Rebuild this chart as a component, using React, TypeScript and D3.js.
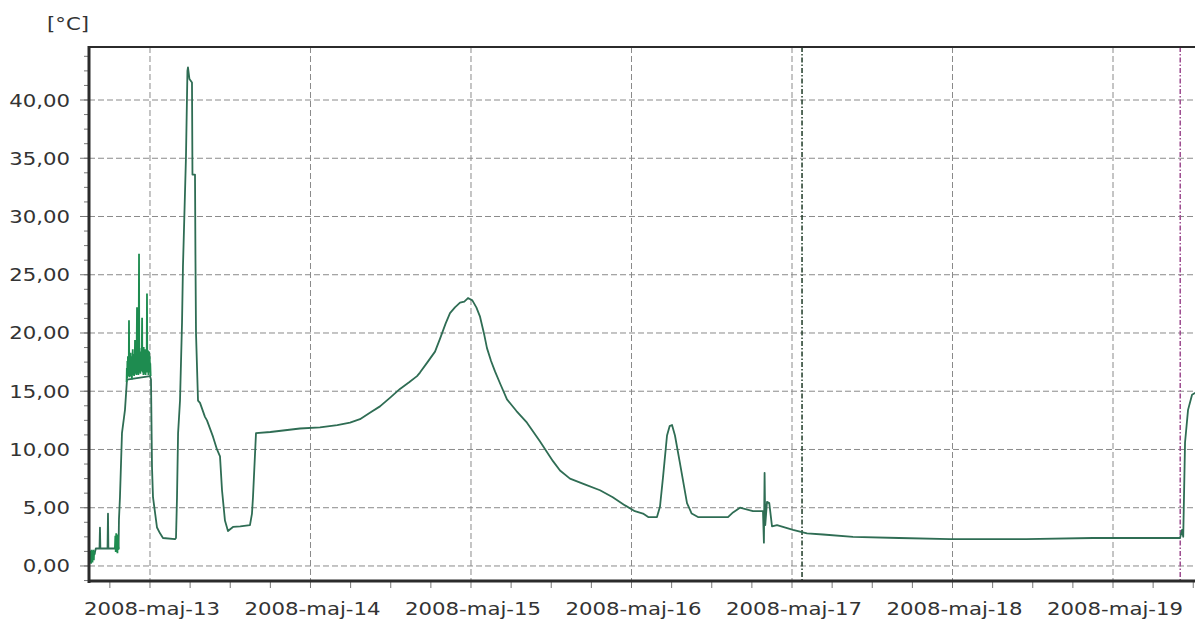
import React from 'react';
import * as d3 from 'd3';

// godziny od 2008-05-12 00:00 i temperatura [°C]
const hours = [
  14.88, 15.03, 15.7, 15.9, 16.45, 16.52, 16.58, 17.65, 17.72, 17.78, 18.7, 19.3, 19.36, 19.51, 19.81,
  20.26, 20.56, 24.0, 24.15, 24.3, 24.45, 25.05, 25.5, 25.94, 27.74, 27.89, 28.04, 28.2, 28.49, 28.79,
  28.93, 29.38, 29.6, 29.68, 29.9, 30.28, 30.35, 30.73, 30.8, 30.88, 31.18, 31.48, 32.22, 32.52, 33.42,
  34.02, 34.47, 34.77, 35.21, 35.66, 36.41, 37.5, 38.95, 39.25, 39.4, 39.85, 42, 46.43, 49.42, 52,
  53.91, 55.4, 57, 58.39, 60, 61.38, 62.8, 63.93, 64.37, 65.5, 66.62, 67.36, 68.2, 68.86, 69.6,
  70.36, 71.0, 71.55, 72.2, 72.8, 73.35, 74.0, 74.39, 75.0, 75.59, 76.4, 77.38, 78.8, 80.37, 82.3,
  84.26, 85.31, 86.8, 89, 91.29, 93.2, 95.03, 96.5, 97.72, 98.5, 99.81, 100.26, 100.71, 101.31, 101.7,
  102.06, 102.5, 103.25, 104.3, 105.0, 105.94, 110.43, 111.18, 112.22, 114.17, 115.66, 115.8, 115.9, 116.0, 116.26,
  116.6, 117.01, 117.76, 120.15, 122.24, 124.64, 129.12, 136, 143.63, 155, 165, 172, 178.02, 178.32, 178.5,
  178.77, 179.22, 179.82, 180.42,
];
const temps = [
  0.8, 1.2, 1.0, 1.5, 1.5, 3.3, 1.5, 1.5, 4.5, 1.5, 1.5, 1.5, 4.0, 5.9, 11.4,
  13.4, 16.0, 16.3, 16.0, 8.5, 5.9, 3.3, 2.8, 2.4, 2.3, 2.4, 5.9, 11.4, 14.2, 20.9,
  25.7, 35.1, 42.5, 42.8, 41.8, 41.5, 33.6, 33.6, 26.3, 20.0, 14.2, 14.0, 12.8, 12.5, 11.1,
  10.0, 9.4, 6.5, 3.9, 3.0, 3.35, 3.4, 3.5, 4.5, 5.9, 11.4, 11.5, 11.8, 11.9, 12.1,
  12.3, 12.6, 13.2, 13.7, 14.5, 15.2, 15.8, 16.3, 16.6, 17.5, 18.4, 19.5, 20.8, 21.7, 22.2,
  22.6, 22.7, 23.0, 22.8, 22.2, 21.4, 19.8, 18.7, 17.6, 16.7, 15.6, 14.3, 13.3, 12.3, 10.7,
  9.0, 8.2, 7.5, 7.0, 6.5, 5.9, 5.2, 4.7, 4.5, 4.2, 4.2, 5.1, 7.6, 11.2, 12.0,
  12.1, 11.2, 8.8, 5.4, 4.5, 4.2, 4.2, 4.6, 5.0, 4.7, 4.7, 2.0, 8.0, 3.5, 5.5,
  5.4, 3.4, 3.5, 3.1, 2.8, 2.7, 2.5, 2.4, 2.3, 2.3, 2.4, 2.4, 2.4, 3.1, 2.5,
  10.6, 13.4, 14.7, 14.9,
];

// gęste, zaszumione odcinki pomiarów
const noiseHours = [
  [14.9, 14.95, 15.0, 15.05, 15.1, 15.15, 15.2, 15.25, 15.3, 15.35, 15.4, 15.45, 15.5, 15.55, 15.6, 15.65, 15.7],
  [18.75, 18.82, 18.88, 18.95, 19.0, 19.07, 19.13, 19.2, 19.27, 19.33],
  [20.5, 20.54, 20.58, 20.62, 20.66, 20.7, 20.74, 20.78, 20.82, 20.86, 20.9, 20.94, 20.98, 21.02, 21.06, 21.1,
    21.14, 21.18, 21.22, 21.26, 21.3, 21.34, 21.38, 21.42, 21.46, 21.5, 21.54, 21.58, 21.62, 21.66, 21.7, 21.76,
    21.8, 21.84, 21.88, 21.92, 21.96, 22.0, 22.06, 22.1, 22.14, 22.18, 22.22, 22.26, 22.3, 22.36, 22.4, 22.44,
    22.48, 22.52, 22.56, 22.6, 22.64, 22.68, 22.72, 22.76, 22.82, 22.86, 22.9, 22.94, 22.98, 23.02, 23.06, 23.1,
    23.14, 23.18, 23.22, 23.26, 23.3, 23.34, 23.38, 23.42, 23.46, 23.5, 23.55, 23.6, 23.64, 23.68, 23.72, 23.76,
    23.8, 23.84, 23.88, 23.92, 23.96, 24.0, 24.04, 24.1],
];
const noiseTemps = [
  [0.5, 1.2, 0.3, 1.3, 0.4, 1.1, 0.2, 1.4, 0.5, 1.3, 0.3, 1.2, 0.6, 1.4, 0.5, 1.3, 1.0],
  [1.5, 2.6, 1.2, 2.8, 1.3, 2.5, 1.1, 2.7, 1.4, 1.6],
  [15.8, 17.0, 16.1, 17.6, 16.2, 18.0, 16.4, 17.5, 16.3, 21.1, 16.6, 17.8, 16.2, 18.1, 16.5, 18.3,
    16.5, 17.4, 16.3, 17.6, 16.0, 18.0, 16.4, 18.6, 16.7, 17.5, 16.6, 17.9, 16.3, 18.2, 16.5, 19.4,
    16.8, 18.2, 16.6, 17.7, 16.4, 18.0, 22.2, 16.9, 18.5, 16.5, 18.1, 16.4, 17.9, 26.8, 17.0, 18.7,
    16.6, 18.3, 16.5, 18.1, 16.9, 18.4, 16.7, 17.8, 21.3, 16.7, 18.4, 16.6, 18.2, 16.4, 18.8, 16.6,
    18.5, 16.8, 18.0, 16.5, 18.6, 16.4, 18.2, 16.6, 18.6, 16.7, 23.4, 16.9, 18.3, 16.6, 18.5, 16.4,
    18.1, 16.8, 18.4, 16.6, 18.0, 16.8, 17.4, 16.3],
];

const markerHours = [121.5, 178.05];
const markerColors = ['#1f3b27', '#9c4a8e'];
const yTicks = [0, 5, 10, 15, 20, 25, 30, 35, 40];

const W = 1195;
const H = 622;
const left = 89;
const right = 1195;
const top = 47;
const bottom = 581;

const t0 = new Date(2008, 4, 12, 0, 0, 0).getTime();
const toDate = (h: number) => new Date(t0 + h * 3600 * 1000);

const plLocale = d3.timeFormatLocale({
  dateTime: '%A, %e %B %Y, %X',
  date: '%d.%m.%Y',
  time: '%H:%M:%S',
  periods: ['AM', 'PM'],
  days: ['niedziela', 'poniedziałek', 'wtorek', 'środa', 'czwartek', 'piątek', 'sobota'],
  shortDays: ['niedz.', 'pon.', 'wt.', 'śr.', 'czw.', 'pt.', 'sob.'],
  months: ['styczeń', 'luty', 'marzec', 'kwiecień', 'maj', 'czerwiec', 'lipiec', 'sierpień', 'wrzesień', 'październik', 'listopad', 'grudzień'],
  shortMonths: ['sty', 'lut', 'mar', 'kwi', 'maj', 'cze', 'lip', 'sie', 'wrz', 'paź', 'lis', 'gru'],
});
const fmtDate = plLocale.format('%Y-%b-%d');
const fmtNum = d3.formatLocale({ decimal: ',', thousands: ' ', grouping: [3], currency: ['', ' zł'] }).format('.2f');

const FONT = '"DejaVu Sans", Verdana, sans-serif';
const SX = 1.18;

export default function App() {
  const x = d3.scaleTime().domain([toDate(14.88), toDate(180.26)]).range([left, right]);
  const y = d3.scaleLinear().domain([-1.29, 44.55]).range([bottom, top]);

  const line = d3.line<[number, number]>()
    .x(d => x(toDate(d[0])))
    .y(d => y(d[1]));

  const mainPts = hours.map((h, i) => [h, temps[i]] as [number, number]);
  const days = d3.timeDay.range(x.domain()[0], x.domain()[1]).filter(d => d > x.domain()[0]);
  const sixHours = d3.timeHour.every(6)!.range(x.domain()[0], x.domain()[1]);
  const minorY = d3.range(-1.25, 44.5, 1.25);

  return (
    <svg width={W} height={H} style={{ position: 'absolute', left: 0, top: 0, background: '#fff' }}>
      <defs>
        <clipPath id="plot">
          <rect x={left} y={top} width={right - left} height={bottom - top} />
        </clipPath>
      </defs>

      {/* siatka */}
      {yTicks.map(v => (
        <line key={'gy' + v} x1={left} x2={right} y1={y(v)} y2={y(v)}
          stroke="#8a8a8a" strokeWidth={1} strokeDasharray="6,3" />
      ))}
      {days.map(d => (
        <line key={'gx' + d.getTime()} x1={x(d)} x2={x(d)} y1={top} y2={bottom}
          stroke="#8a8a8a" strokeWidth={1} strokeDasharray="6,3" />
      ))}

      {/* znaczniki pionowe */}
      {markerHours.map((h, i) => (
        <line key={'m' + i} x1={x(toDate(h))} x2={x(toDate(h))} y1={top} y2={bottom}
          stroke={markerColors[i]} strokeWidth={1.5} strokeDasharray="5,2,1.5,2" />
      ))}

      {/* dane */}
      <g clipPath="url(#plot)">
        <path d={line(mainPts) || ''} fill="none" stroke="#2f6d54" strokeWidth={1.8} strokeLinejoin="round" />
        {noiseHours.map((hs, k) => (
          <path key={'n' + k}
            d={line(hs.map((h, i) => [h, noiseTemps[k][i]] as [number, number])) || ''}
            fill="none" stroke="#1e8c50" strokeWidth={1.8} />
        ))}
      </g>

      {/* osie */}
      {minorY.map(v => (
        <line key={'my' + v} x1={left - 5} x2={left} y1={y(v)} y2={y(v)} stroke="#777" strokeWidth={1} />
      ))}
      {yTicks.map(v => (
        <line key={'ty' + v} x1={left - 9} x2={left} y1={y(v)} y2={y(v)} stroke="#777" strokeWidth={1} />
      ))}
      {sixHours.map(d => (
        <line key={'tx' + d.getTime()} x1={x(d)} x2={x(d)} y1={bottom} y2={bottom + 7} stroke="#777" strokeWidth={1} />
      ))}
      <line x1={left} x2={right} y1={top} y2={top} stroke="#2b2b2b" strokeWidth={2} />
      <line x1={left} x2={left} y1={top - 1} y2={bottom + 2} stroke="#2b2b2b" strokeWidth={3} />
      <line x1={left - 1} x2={right} y1={bottom} y2={bottom} stroke="#2b2b2b" strokeWidth={3} />

      {/* etykiety */}
      {yTicks.map(v => (
        <text key={'ly' + v} transform={`translate(70,${y(v) + 6.5}) scale(${SX},1)`}
          textAnchor="end" fontFamily={FONT} fontSize={18} fill="#333">{fmtNum(v)}</text>
      ))}
      {days.map(d => (
        <text key={'lx' + d.getTime()} transform={`translate(${x(d) + 2},615) scale(${SX},1)`}
          textAnchor="middle" fontFamily={FONT} fontSize={18} fill="#333">{fmtDate(d)}</text>
      ))}
      <text transform={`translate(47,30) scale(${SX},1)`} fontFamily={FONT} fontSize={18} fill="#333">[°C]</text>
    </svg>
  );
}
